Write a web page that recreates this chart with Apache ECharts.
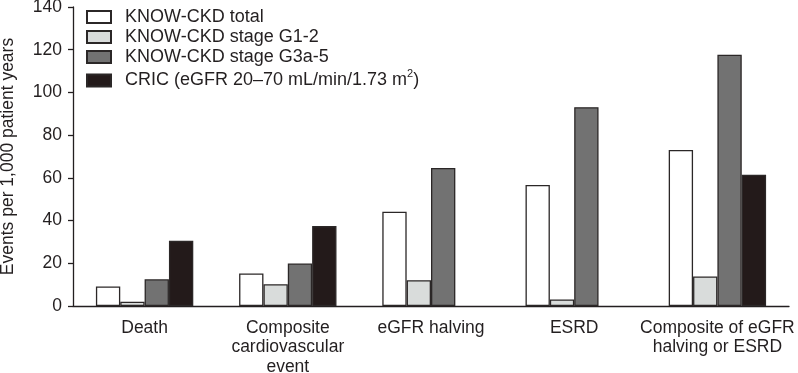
<!DOCTYPE html>
<html>
<head>
<meta charset="utf-8">
<script src="https://cdn.jsdelivr.net/npm/echarts@6/dist/echarts.min.js"></script>
<style>
  html, body { margin: 0; padding: 0; background: #fff; }
  #chart { width: 798px; height: 373px; }
</style>
</head>
<body>
<div id="chart"></div>
<script>
// Event rates per 1,000 patient years
const categories = ['Death', 'Composite\ncardiovascular\nevent', 'eGFR halving', 'ESRD', 'Composite of eGFR\nhalving or ESRD']
const totalVals = [9.1, 15.2, 44.1, 56.7, 73.1]
const g12Vals = [2.0, 10.2, 12.1, 3.1, 13.8]
const g3Vals = [12.5, 19.9, 64.6, 93.1, 117.7]
const cricVals = [30.5, 37.4, null, null, 61.5]
const yTicks = [0, 20, 40, 60, 80, 100, 120, 140]

const ink = '#231f20'
const font = '"Liberation Sans", Arial, sans-serif'

const chart = echarts.init(document.getElementById('chart'))

const barSeries = (name, values, fill) => ({
  name,
  type: 'bar',
  data: values,
  barGap: '0%',
  barCategoryGap: '32%',
  itemStyle: { color: fill, borderColor: '#2b2727', borderWidth: 1.3 }
})

const option = {
  animation: false,
  grid: { left: 73, right: 9, top: 7, bottom: 67, outerBoundsMode: 'none', containLabel: false },
  legend: {
    orient: 'vertical',
    left: 81,
    top: 3,
    itemWidth: 24,
    itemHeight: 12,
    itemGap: 2,
    icon: 'rect',
    textStyle: {
      color: ink,
      fontFamily: font,
      fontSize: 18,
      padding: [0, 0, 0, 9],
      rich: {
        sup: { fontSize: 11, verticalAlign: 'top', padding: [0, 0, 14, 0], color: ink, fontFamily: font }
      }
    },
    formatter: (name) => name.startsWith('CRIC')
      ? 'CRIC (eGFR 20–70 mL/min/1.73 m{sup|2})'
      : name,
    data: ['KNOW-CKD total', 'KNOW-CKD stage G1-2', 'KNOW-CKD stage G3a-5', 'CRIC (eGFR 20–70 mL/min/1.73 m2)']
  },
  xAxis: {
    type: 'category',
    data: categories,
    axisLine: { lineStyle: { color: ink, width: 1.3 } },
    axisTick: { length: 5, lineStyle: { color: ink, width: 1.3 } },
    axisLabel: {
      color: ink,
      fontFamily: font,
      fontSize: 17.5,
      lineHeight: 19.5,
      margin: 12,
      interval: 0
    }
  },
  yAxis: {
    type: 'value',
    min: 0,
    max: 140,
    interval: 20,
    name: 'Events per 1,000 patient years',
    nameLocation: 'middle',
    nameGap: 56,
    nameTextStyle: { color: ink, fontFamily: font, fontSize: 17.5 },
    splitLine: { show: false },
    axisLine: { show: true, lineStyle: { color: ink, width: 1.3 } },
    axisTick: { show: true, length: 5, lineStyle: { color: ink, width: 1.3 } },
    axisLabel: {
      color: ink,
      fontFamily: font,
      fontSize: 17.5,
      margin: 11,
      formatter: (v) => yTicks.includes(v) ? String(v) : ''
    }
  },
  series: [
    barSeries('KNOW-CKD total', totalVals, '#ffffff'),
    barSeries('KNOW-CKD stage G1-2', g12Vals, '#d9dcdb'),
    barSeries('KNOW-CKD stage G3a-5', g3Vals, '#727272'),
    barSeries('CRIC (eGFR 20–70 mL/min/1.73 m2)', cricVals, '#231a1a')
  ]
}

chart.setOption(option)
</script>
</body>
</html>
